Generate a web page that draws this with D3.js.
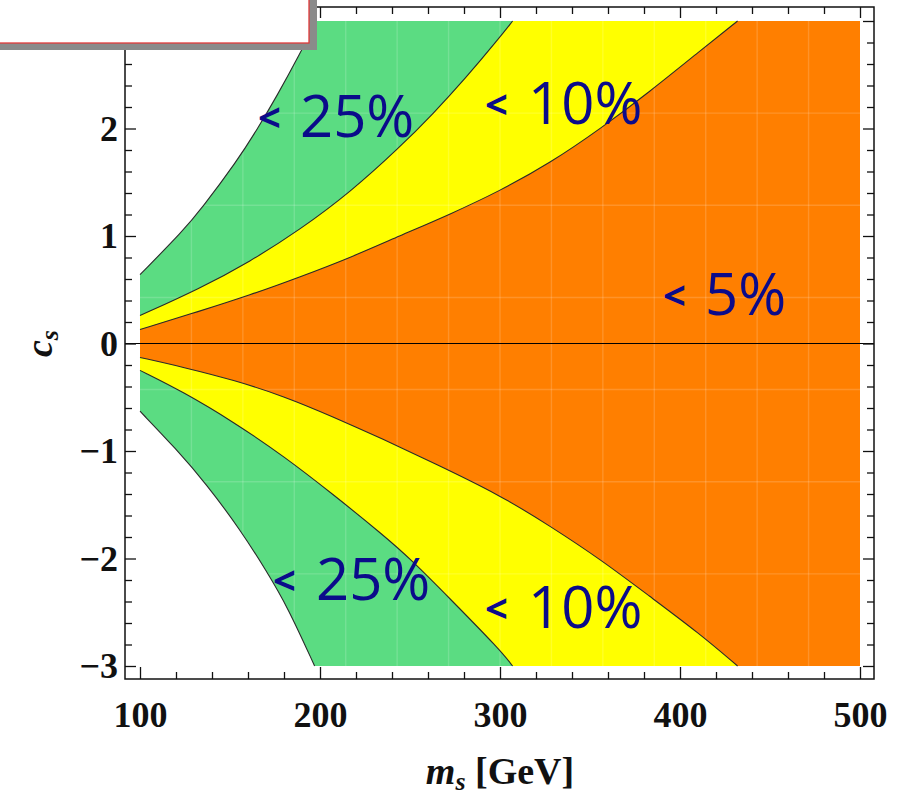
<!DOCTYPE html>
<html>
<head>
<meta charset="utf-8">
<script src="https://cdn.jsdelivr.net/npm/d3@7"></script>
<style>
  html, body { margin: 0; padding: 0; background: #ffffff; }
  svg { display: block; }
</style>
</head>
<body>
<svg id="chart" width="904" height="795"></svg>
<script>
// Contour boundaries of the deviation, as [m_s (GeV), c_s] pairs.
const edge25Upper = [[100, 0.64], [124, 1.05], [134, 1.25], [154, 1.70], [165, 1.99], [176, 2.30], [189, 2.70], [198, 3.0]];
const edge25Lower = [[100, -0.63], [120, -0.98], [137, -1.31], [156, -1.74], [170, -2.11], [182, -2.45], [197, -3.0]];
const edge10Upper = [[100, 0.26], [133, 0.51], [161, 0.76], [189, 1.06], [217, 1.41], [244, 1.82], [263, 2.14], [281, 2.47], [299, 2.83], [307, 3.0]];
const edge10Lower = [[100, -0.25], [124, -0.45], [152, -0.73], [180, -1.05], [207, -1.40], [235, -1.78], [250, -2.00], [272, -2.37], [300, -2.85], [307, -3.0]];
const edge5Upper = [[100, 0.13], [133, 0.30], [161, 0.45], [189, 0.62], [217, 0.80], [244, 1.00], [272, 1.20], [300, 1.42], [328, 1.68], [356, 2.00], [383, 2.34], [411, 2.72], [432, 3.0]];
const edge5Lower = [[100, -0.13], [124, -0.22], [152, -0.34], [180, -0.49], [207, -0.68], [235, -0.89], [263, -1.11], [300, -1.41], [328, -1.70], [356, -2.01], [383, -2.35], [411, -2.70], [432, -3.0]];

// Band fills, drawn from the widest band inwards.
const bandNames = ["25%", "10%", "5%"];
const bandColors = ["#5bdc82", "#ffff00", "#ff7f00"];

// Axis ticks.
const xTicks = [100, 200, 300, 400, 500];
const yTicks = [-3, -2, -1, 0, 1, 2, 3];
const xMinorStep = 20;
const yMinorStep = 0.2;

// In-plot annotations: chevron anchor and percentage anchor (data units).
const noteText = ["25%", "10%", "5%", "25%", "10%"];
const noteChevronM = [165.6, 291.7, 390.6, 173.9, 291.7];
const noteValueM = [188.9, 315.6, 413.9, 197.8, 315.6];
const noteBaseC = [1.92, 2.04, 0.265, -2.386, -2.647];

const svg = d3.select("#chart");
const x = d3.scaleLinear().domain([100, 500]).range([140, 860]);
const y = d3.scaleLinear().domain([-3, 3]).range([666, 21]);

const framePad = 14;
const fx0 = x.range()[0] - 15, fx1 = x.range()[1] + framePad;
const fy0 = y.range()[1] - framePad, fy1 = y.range()[0] + 13;

const curve = d3.line().x(d => x(d[0])).y(d => y(d[1])).curve(d3.curveBasis);

// Closed outline of one half of a band: boundary curve, then along the plot edge back to c = 0.
function halfRegion(edge, edgeC) {
  const [xmin, xmax] = x.domain();
  return curve(edge) +
    "L" + x(xmax) + "," + y(edgeC) +
    "L" + x(xmax) + "," + y(0) +
    "L" + x(xmin) + "," + y(0) + "Z";
}

const edgesUpper = [edge25Upper, edge10Upper, edge5Upper];
const edgesLower = [edge25Lower, edge10Lower, edge5Lower];

const defs = svg.append("defs");
const clip = defs.append("clipPath").attr("id", "colored");
clip.append("path").attr("d", halfRegion(edge25Upper, 3));
clip.append("path").attr("d", halfRegion(edge25Lower, -3));

const bands = svg.append("g");
bandNames.forEach((name, i) => {
  bands.append("path").attr("d", halfRegion(edgesUpper[i], 3)).attr("fill", bandColors[i]);
  bands.append("path").attr("d", halfRegion(edgesLower[i], -3)).attr("fill", bandColors[i]);
});

// faint mesh seams over the filled region
const mesh = svg.append("g").attr("clip-path", "url(#colored)")
  .attr("stroke", "#ffffff").attr("stroke-opacity", 0.16).attr("stroke-width", 1.4);
const [mx0, mx1] = x.domain(), [cy0, cy1] = y.domain();
d3.range(1, 14).forEach(k => {
  const v = mx0 + k * (mx1 - mx0) / 14;
  mesh.append("line").attr("x1", x(v)).attr("x2", x(v)).attr("y1", y(cy0)).attr("y2", y(cy1));
});
d3.range(1, 7).forEach(k => {
  const v = cy0 + k * (cy1 - cy0) / 7;
  mesh.append("line").attr("x1", x(mx0)).attr("x2", x(mx1)).attr("y1", y(v)).attr("y2", y(v));
});

// contour lines
const lines = svg.append("g").attr("fill", "none").attr("stroke", "#2a2a2a").attr("stroke-width", 1.1);
edgesUpper.concat(edgesLower).forEach(e => lines.append("path").attr("d", curve(e)));

// c_s = 0 axis
svg.append("line")
  .attr("x1", fx0).attr("x2", fx1).attr("y1", y(0)).attr("y2", y(0))
  .attr("stroke", "#000").attr("stroke-width", 1.2);

// Frame with inward ticks on all four sides.
const minorX = d3.range(xTicks[0], xTicks[xTicks.length - 1] + 0.001, xMinorStep).filter(v => !xTicks.includes(v));
const minorY = d3.range(yTicks[0], yTicks[yTicks.length - 1] + 0.001, yMinorStep)
  .map(v => Math.round(v * 10) / 10).filter(v => !yTicks.includes(v));
const fmt = d => d < 0 ? "\u2212" + Math.abs(d) : String(d);

function styleAxis(g) {
  g.select(".domain").remove();
  g.selectAll(".tick line").attr("stroke", "#111").attr("stroke-width", 1.3);
  g.selectAll("text")
    .attr("font-family", "'Liberation Serif', 'DejaVu Serif', serif")
    .attr("font-weight", "bold").attr("font-size", 36).attr("fill", "#111");
}

const axes = svg.append("g");
// bottom
axes.append("g").attr("transform", `translate(0,${fy1})`)
  .call(d3.axisBottom(x).tickValues(xTicks).tickFormat(fmt).tickSizeInner(-12).tickSizeOuter(0).tickPadding(22))
  .call(styleAxis);
axes.append("g").attr("transform", `translate(0,${fy1})`)
  .call(d3.axisBottom(x).tickValues(minorX).tickFormat("").tickSizeInner(-7).tickSizeOuter(0))
  .call(styleAxis);
// top
axes.append("g").attr("transform", `translate(0,${fy0})`)
  .call(d3.axisTop(x).tickValues(xTicks).tickFormat("").tickSizeInner(-11).tickSizeOuter(0))
  .call(styleAxis);
axes.append("g").attr("transform", `translate(0,${fy0})`)
  .call(d3.axisTop(x).tickValues(minorX).tickFormat("").tickSizeInner(-7).tickSizeOuter(0))
  .call(styleAxis);
// left
axes.append("g").attr("transform", `translate(${fx0},0)`)
  .call(d3.axisLeft(y).tickValues(yTicks).tickFormat(fmt).tickSizeInner(-11).tickSizeOuter(0).tickPadding(7))
  .call(styleAxis);
axes.append("g").attr("transform", `translate(${fx0},0)`)
  .call(d3.axisLeft(y).tickValues(minorY).tickFormat("").tickSizeInner(-7).tickSizeOuter(0))
  .call(styleAxis);
// right
axes.append("g").attr("transform", `translate(${fx1},0)`)
  .call(d3.axisRight(y).tickValues(yTicks).tickFormat("").tickSizeInner(-11).tickSizeOuter(0))
  .call(styleAxis);
axes.append("g").attr("transform", `translate(${fx1},0)`)
  .call(d3.axisRight(y).tickValues(minorY).tickFormat("").tickSizeInner(-7).tickSizeOuter(0))
  .call(styleAxis);

svg.append("rect")
  .attr("x", fx0).attr("y", fy0).attr("width", fx1 - fx0).attr("height", fy1 - fy0)
  .attr("fill", "none").attr("stroke", "#111").attr("stroke-width", 1.5);

// Axis titles
const xTitle = svg.append("text")
  .attr("x", (x.range()[0] + x.range()[1]) / 2).attr("y", 784)
  .attr("text-anchor", "middle")
  .attr("font-family", "'Liberation Serif', serif").attr("font-weight", "bold")
  .attr("font-size", 38).attr("fill", "#111");
xTitle.append("tspan").attr("font-style", "italic").text("m");
xTitle.append("tspan").attr("font-style", "italic").attr("font-size", 26).attr("dy", 6).text("s");
xTitle.append("tspan").attr("dy", -6).text(" [GeV]");

const yTitle = svg.append("text")
  .attr("transform", `translate(52,${y(0)}) rotate(-90)`)
  .attr("text-anchor", "middle")
  .attr("font-family", "'Liberation Serif', serif").attr("font-weight", "bold")
  .attr("font-size", 38).attr("fill", "#111");
yTitle.append("tspan").attr("font-style", "italic").text("c");
yTitle.append("tspan").attr("font-style", "italic").attr("font-size", 26).attr("dy", 6).text("s");

// Band annotations
const notes = svg.append("g")
  .attr("font-family", "'Open Sans', 'Lato', sans-serif").attr("fill", "#0b0b8a");
noteText.forEach((t, i) => {
  const txt = notes.append("text").attr("x", x(noteChevronM[i])).attr("y", y(noteBaseC[i]));
  txt.append("tspan").attr("font-size", 40).attr("font-weight", 700).attr("dy", -5).text("< ");
  txt.append("tspan").attr("x", x(noteValueM[i])).attr("dy", 5).attr("font-size", 58).attr("font-weight", 500).text(t);
});

// Caption box in the upper-left corner, partly outside the page
svg.append("rect").attr("x", -5).attr("y", -5).attr("width", 322).attr("height", 55).attr("fill", "#8a8a8a");
svg.append("rect").attr("x", -5).attr("y", -5).attr("width", 314).attr("height", 48)
  .attr("fill", "#ffffff").attr("stroke", "#e03a3a").attr("stroke-width", 1.3);
</script>
</body>
</html>
